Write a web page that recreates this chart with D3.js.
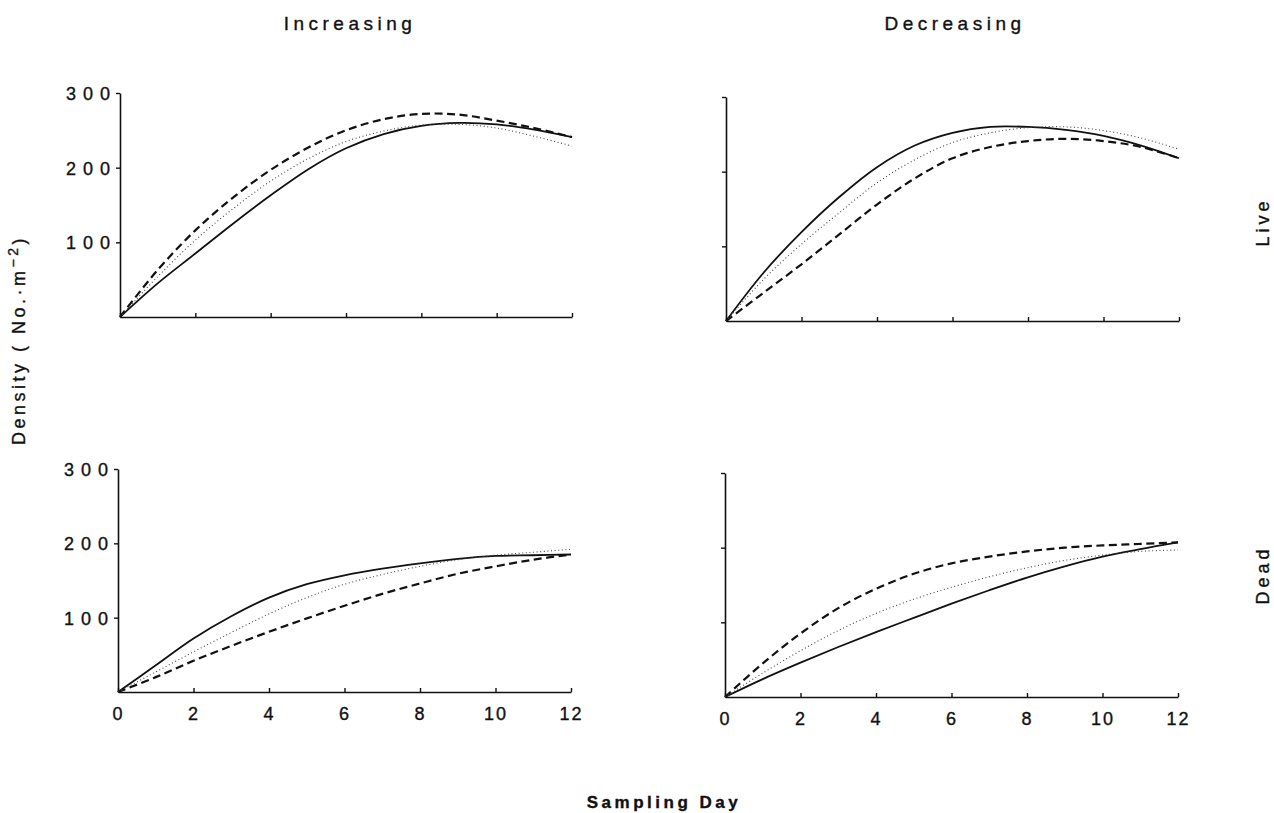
<!DOCTYPE html>
<html>
<head>
<meta charset="utf-8">
<script src="https://cdn.jsdelivr.net/npm/d3@7"></script>
<style>
  body { margin: 0; background: #fff; }
  svg text { font-family: "Liberation Sans", Arial, Helvetica, sans-serif; fill: #111; stroke: #111; stroke-width: 0.35px; }
</style>
</head>
<body>
<div id="chart"></div>
<script>
// sampling days
var days = [0, 1, 2, 3, 4, 5, 6, 7, 8, 9, 10, 11, 12];

// Increasing - Live
var incLiveSolid  = [0, 45, 85, 125, 163, 198, 226, 245, 256, 260, 258, 251, 241];
var incLiveDashed = [0, 63, 116, 160, 197, 227, 250, 265, 272, 271, 263, 253, 241];
var incLiveDotted = [0, 54, 103, 145, 182, 212, 235, 249, 257, 258, 253, 242, 229];

// Decreasing - Live
var decLiveSolid  = [0, 65, 119, 166, 206, 235, 252, 260, 260, 256, 248, 235, 218];
var decLiveDashed = [0, 38, 76, 116, 156, 191, 218, 233, 241, 244, 241, 233, 218];
var decLiveDotted = [0, 56, 103, 145, 185, 216, 239, 252, 259, 260, 255, 245, 230];

// Increasing - Dead
var incDeadSolid  = [0, 36, 72, 102, 127, 145, 157, 166, 173, 179, 183, 184, 185];
var incDeadDashed = [0, 20, 42, 62, 81, 99, 116, 132, 146, 159, 169, 178, 185];
var incDeadDotted = [0, 27, 54, 80, 105, 127, 145, 158, 169, 178, 184, 188, 192];

// Decreasing - Dead
var decDeadSolid  = [0, 24, 46, 67, 87, 106, 125, 143, 160, 175, 188, 198, 207];
var decDeadDashed = [0, 45, 85, 119, 145, 165, 179, 188, 195, 200, 203, 205, 207];
var decDeadDotted = [0, 32, 62, 89, 112, 131, 147, 161, 173, 183, 190, 195, 197];

var xTicks = [0, 2, 4, 6, 8, 10, 12];
var yTicks = [100, 200, 300];

var colTitles = ["Increasing", "Decreasing"];
var rowTitles = ["Live", "Dead"];

var width = 1274, height = 813;

var svg = d3.select("#chart").append("svg")
    .attr("width", width)
    .attr("height", height);

// panel boxes (pixel frame of each small plot)
var panels = [
  {row: 0, col: 0, left: 120, right: 572, top: 93,  bottom: 317, series: [incLiveSolid, incLiveDashed, incLiveDotted]},
  {row: 0, col: 1, left: 726, right: 1179, top: 97, bottom: 321, series: [decLiveSolid, decLiveDashed, decLiveDotted]},
  {row: 1, col: 0, left: 118, right: 571, top: 469, bottom: 692, series: [incDeadSolid, incDeadDashed, incDeadDotted]},
  {row: 1, col: 1, left: 725, right: 1178, top: 473, bottom: 697, series: [decDeadSolid, decDeadDashed, decDeadDotted]}
];

var styles = [
  {w: 1.8, dash: null, color: "#111"},
  {w: 2.2, dash: "8,4.5", color: "#111"},
  {w: 1.1, dash: "1,2.6", color: "#444"}
];

panels.forEach(function(p) {
    var x = d3.scaleLinear().domain([0, 12]).range([p.left, p.right]);
    var y = d3.scaleLinear().domain([0, 300]).range([p.bottom, p.top]);

    var g = svg.append("g");

    // x axis
    var xAxis = d3.axisBottom(x).tickValues(xTicks).tickSizeInner(-4).tickSizeOuter(0)
        .tickFormat(p.row == 1 ? d3.format("d") : "");
    var gx = g.append("g").attr("transform", "translate(0," + p.bottom + ")").call(xAxis);
    gx.select(".domain").attr("stroke", "#111").attr("stroke-width", 1.6);
    gx.selectAll(".tick line").attr("stroke", "#111").attr("stroke-width", 1.4);
    gx.selectAll(".tick text")
        .attr("dy", 0)
        .attr("y", 28)
        .style("font-size", "18px")
        .style("letter-spacing", "2px");

    // y axis
    var yAxis = d3.axisLeft(y).tickValues(yTicks).tickSizeInner(4).tickSizeOuter(0)
        .tickFormat(p.col == 0 ? d3.format("d") : "");
    var gy = g.append("g").attr("transform", "translate(" + p.left + ",0)").call(yAxis);
    gy.select(".domain").attr("stroke", "#111").attr("stroke-width", 1.6);
    gy.selectAll(".tick line").attr("stroke", "#111").attr("stroke-width", 1.4);
    gy.selectAll(".tick text")
        .attr("x", -3)
        .attr("dy", "0.36em")
        .style("font-size", "18px")
        .style("letter-spacing", "7px");

    var line = d3.line()
        .x(function(d, i) { return x(days[i]); })
        .y(function(d) { return y(d); })
        .curve(d3.curveCatmullRom.alpha(0.5));

    p.series.forEach(function(s, k) {
        g.append("path")
            .datum(s)
            .attr("d", line)
            .attr("fill", "none")
            .attr("stroke", styles[k].color)
            .attr("stroke-width", styles[k].w)
            .attr("stroke-dasharray", styles[k].dash);
    });
});

// column titles
svg.selectAll(".coltitle")
    .data(colTitles)
    .enter()
    .append("text")
    .attr("class", "coltitle")
    .attr("x", function(d, i) { return i == 0 ? 350 : 955; })
    .attr("y", 30)
    .attr("text-anchor", "middle")
    .style("font-size", "19px")
    .style("letter-spacing", "4.5px")
    .text(function(d) { return d; });

// row titles on the right
svg.selectAll(".rowtitle")
    .data(rowTitles)
    .enter()
    .append("text")
    .attr("class", "rowtitle")
    .attr("transform", function(d, i) {
        return "translate(1269," + (i == 0 ? 222 : 575) + ") rotate(-90)";
    })
    .attr("text-anchor", "middle")
    .style("font-size", "18px")
    .style("letter-spacing", "4px")
    .text(function(d) { return d; });

// y label
var ylab = svg.append("text")
    .attr("transform", "translate(25,340) rotate(-90)")
    .attr("text-anchor", "middle")
    .style("font-size", "18px")
    .style("letter-spacing", "3.5px");
ylab.append("tspan").text("Density  ( No.\u00b7m");
ylab.append("tspan").attr("dy", -7).style("font-size", "14px").text("\u22122");
ylab.append("tspan").attr("dy", 7).text(")");

// x label
svg.append("text")
    .attr("x", 664)
    .attr("y", 808)
    .attr("text-anchor", "middle")
    .style("font-size", "17px")
    .style("font-weight", "bold")
    .style("letter-spacing", "3.5px")
    .text("Sampling  Day");
</script>
</body>
</html>
